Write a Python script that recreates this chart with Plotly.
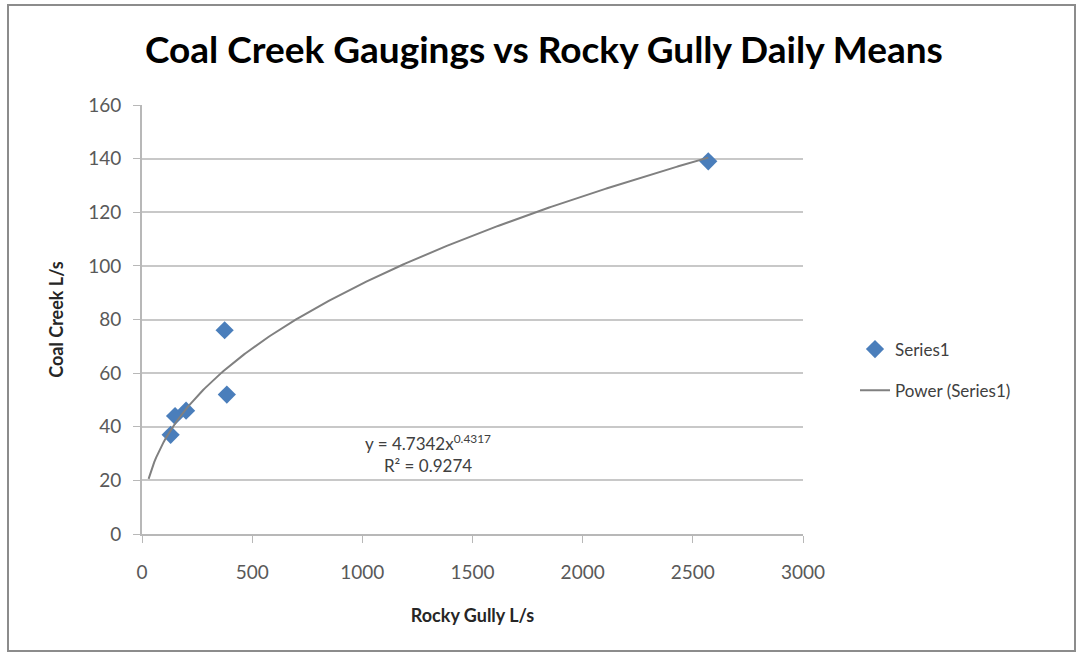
import numpy as np
import plotly.graph_objects as go

# Rocky Gully daily means (x) vs Coal Creek gaugings (y), L/s
rocky_gully = [130, 150, 200, 375, 385, 2570]
coal_creek = [37, 44, 46, 76, 52, 139]

# power trendline shown on the chart
coef_a = 4.7342
coef_b = 0.4317
r_squared = 0.9274
trend_start = 30
trend_end = 2570

x_ticks = [0, 500, 1000, 1500, 2000, 2500, 3000]
y_ticks = [0, 20, 40, 60, 80, 100, 120, 140, 160]

W, H = 1077, 658
L, R, T, B = 142, 803, 105, 534


def px_x(p):
    return (p - L) / (R - L)


def px_y(p):
    return (B - p) / (B - T)


trend_x = np.linspace(trend_start, trend_end, 300)
trend_y = coef_a * trend_x ** coef_b

fig = go.Figure()
fig.add_trace(go.Scatter(
    x=rocky_gully, y=coal_creek, mode="markers", name="Series1",
    legendgroup="a",
    marker=dict(symbol="diamond", size=14, color="#4a7ebb")))
fig.add_trace(go.Scatter(
    x=trend_x, y=trend_y, mode="lines", name="Power (Series1)",
    legendgroup="b",
    line=dict(color="#808080", width=2)))

font = "Lato, 'Open Sans', sans-serif"
axis_common = dict(
    gridcolor="#c8c8c8", gridwidth=2,
    showline=True, linecolor="#b8b8b8", linewidth=2,
    ticks="outside", ticklen=7, tickcolor="#b8b8b8", tickwidth=1,
    tickfont=dict(family=font, size=19, color="#595959"),
    zeroline=False,
)

# only horizontal gridlines, like the original
fig.update_xaxes(range=[0, 3000], tickvals=x_ticks, showgrid=False,
                 title=dict(text="<b>Rocky Gully L/s</b>", standoff=28,
                            font=dict(family=font, size=18, color="#262626")),
                 ticklabelstandoff=13, **axis_common)
fig.update_yaxes(range=[0, 160], tickvals=y_ticks, showgrid=True,
                 title=dict(text="<b>Coal Creek L/s</b>", standoff=20,
                            font=dict(family=font, size=18, color="#262626")),
                 ticklabelstandoff=8, **axis_common)

fig.add_annotation(
    x=1300, y=30, xref="x", yref="y", showarrow=False,
    text=f"y = {coef_a}x<sup>{coef_b}</sup><br>R² = {r_squared}",
    font=dict(family=font, size=17, color="#404040"), align="center")

# outer chart frame
fig.add_shape(type="rect", xref="paper", yref="paper",
              x0=px_x(8), x1=px_x(1075), y0=px_y(651), y1=px_y(5),
              line=dict(color="#8c8c8c", width=2), layer="below")

fig.update_layout(
    width=W, height=H,
    margin=dict(l=L, r=W - R, t=T, b=H - B),
    paper_bgcolor="white", plot_bgcolor="white",
    title=dict(text="<b>Coal Creek Gaugings vs Rocky Gully Daily Means</b>",
               x=0.505, xanchor="center", y=1 - 50 / H, yanchor="middle",
               font=dict(family=font, size=37, color="black")),
    legend=dict(x=px_x(855), y=px_y(370), xanchor="left", yanchor="middle",
                font=dict(family=font, size=17, color="#404040"),
                tracegroupgap=16, bgcolor="rgba(0,0,0,0)"),
    showlegend=True,
)

# page has a default body margin; drop it so the figure sits at 0,0
fig.write_html("out.html", config={"displayModeBar": False},
               post_script="document.body.style.margin='0';")
